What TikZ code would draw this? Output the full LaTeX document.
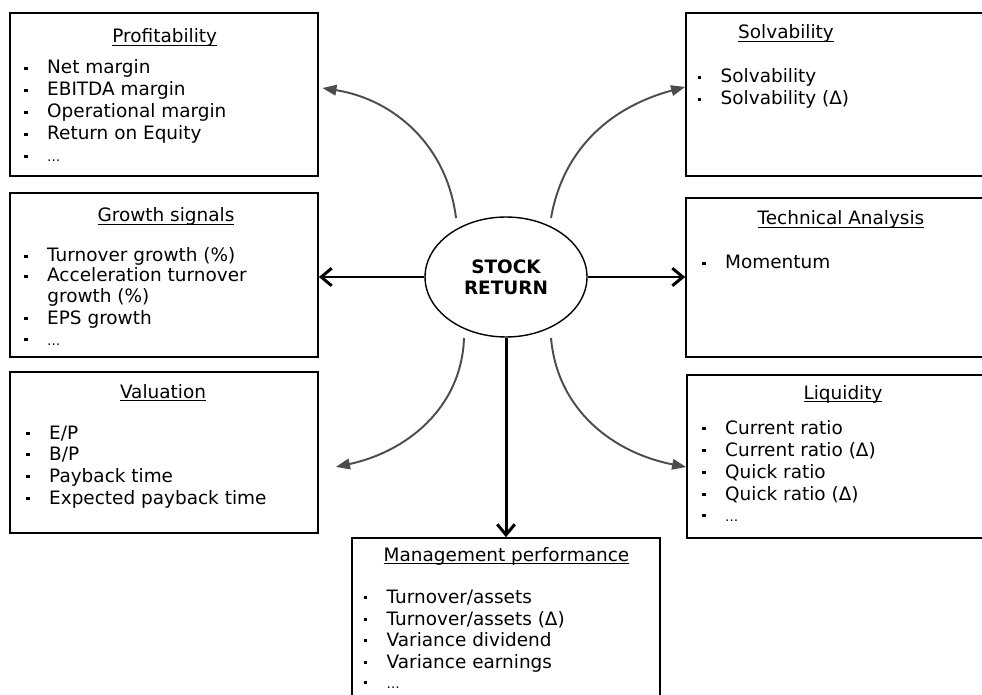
\documentclass[tikz,border=0pt]{standalone}
\usepackage{fontspec}
\setmainfont{DejaVu Sans}
\usetikzlibrary{shapes.geometric,arrows.meta}

\newcommand{\bul}{\makebox[13pt][l]{\rule[2.2pt]{1.9pt}{1.9pt}}}
\newcommand{\ttl}[1]{\underline{\smash{#1}}}
\newcommand{\etc}{{\fontsize{7.5}{9}\selectfont …}}

\tikzset{
  catbox/.style={draw, line width=1pt, inner sep=0pt},
  cattitle/.style={anchor=base, inner sep=0pt, font=\fontsize{10.5}{12.5}\selectfont},
  catitem/.style={anchor=base west, inner sep=0pt, font=\fontsize{10.5}{12.5}\selectfont},
  bigarrow/.style={-{Straight Barb[length=6pt,width=10pt]}, line width=1.7pt},
  curvearrow/.style={-{Triangle[length=8pt,width=6pt]}, line width=1.1pt, black!70}
}

\begin{document}
\begin{tikzpicture}[x=0.02cm, y=-0.02cm]
    \useasboundingbox (0,0) rectangle (982,695);
    \clip (0,0) rectangle (982,695);

    % boxes
    \node[catbox, minimum width=6.16cm, minimum height=3.26cm] (prof) at (164,94.5) {};
    \node[catbox, minimum width=6.16cm, minimum height=3.28cm] (grow) at (164,275) {};
    \node[catbox, minimum width=6.16cm, minimum height=3.22cm] (valu) at (164,452.5) {};
    \node[catbox, minimum width=6.28cm, minimum height=3.26cm] (solv) at (843,94.5) {};
    \node[catbox, minimum width=6.28cm, minimum height=3.18cm] (tech) at (843,277.5) {};
    \node[catbox, minimum width=6.26cm, minimum height=3.26cm] (liqu) at (843.5,456.5) {};
    \node[catbox, minimum width=6.16cm, minimum height=3.64cm] (mgmt) at (506,629) {};

    \node[ellipse, draw, line width=0.8pt, minimum width=3.24cm, minimum height=2.4cm, inner sep=0pt,
      align=center, font=\bfseries\fontsize{10.5}{12}\selectfont] (stock) at (506,277) {STOCK\\RETURN};

    % straight arrows
    \draw[bigarrow] (stock.west) -- (stock.west -| grow.east);
    \draw[bigarrow] (stock.east) -- (stock.east -| tech.west);
    \draw[bigarrow] (stock.south) -- (stock.south |- mgmt.north);

    % curved arrows
    \coordinate (tl) at (456,218);
    \coordinate (tr) at (551,218);
    \coordinate (bl) at (464,338);
    \coordinate (br) at (551,338);
    \draw[curvearrow] (tl) to[out=97, in=-9] ([xshift=2pt,yshift=3.7pt]prof.east);
    \draw[curvearrow] (tr) to[out=80, in=195] ([yshift=4.3pt]solv.west);
    \draw[curvearrow] (bl) to[out=-92, in=12] ([xshift=9.7pt,yshift=-8.2pt]valu.east);
    \draw[curvearrow] (br) to[out=-85, in=169] ([yshift=-6pt]liqu.west);

    % Profitability
    \node[cattitle] (prof-t) at (164.7,43) {\ttl{Profitability}};
    \node[catitem] (prof-1) at (24,74) {\bul Net margin};
    \node[catitem] (prof-2) at (24,96) {\bul EBITDA margin};
    \node[catitem] (prof-3) at (24,118) {\bul Operational margin};
    \node[catitem] (prof-4) at (24,140) {\bul Return on Equity};
    \node[catitem] (prof-5) at (24,162) {\bul \etc};

    % Growth signals
    \node[cattitle] (grow-t) at (166,222) {\ttl{Growth signals}};
    \node[catitem] (grow-1) at (24,262) {\bul Turnover growth (\%)};
    \node[catitem] (grow-2) at (24,282) {\bul Acceleration turnover};
    \node[catitem] (grow-3) at (47,303) {growth (\%)};
    \node[catitem] (grow-4) at (24,324) {\bul EPS growth};
    \node[catitem] (grow-5) at (24,345) {\bul \etc};

    % Valuation
    \node[cattitle] (valu-t) at (163,398) {\ttl{Valuation}};
    \node[catitem] (valu-1) at (26,439) {\bul E/P};
    \node[catitem] (valu-2) at (26,460) {\bul B/P};
    \node[catitem] (valu-3) at (26,482) {\bul Payback time};
    \node[catitem] (valu-4) at (26,504) {\bul Expected payback time};

    % Solvability
    \node[cattitle] (solv-t) at (786,39) {\ttl{Solvability}};
    \node[catitem] (solv-1) at (697.5,83) {\bul Solvability};
    \node[catitem] (solv-2) at (697.5,105) {\bul Solvability (Δ)};

    % Technical Analysis
    \node[cattitle] (tech-t) at (841,225) {\ttl{Technical Analysis}};
    \node[catitem] (tech-1) at (702,269) {\bul Momentum};

    % Liquidity
    \node[cattitle] (liqu-t) at (843,399) {\ttl{Liquidity}};
    \node[catitem] (liqu-1) at (702,434) {\bul Current ratio};
    \node[catitem] (liqu-2) at (702,456) {\bul Current ratio (Δ)};
    \node[catitem] (liqu-3) at (702,478) {\bul Quick ratio};
    \node[catitem] (liqu-4) at (702,500) {\bul Quick ratio (Δ)};
    \node[catitem] (liqu-5) at (702,521) {\bul \etc};

    % Management performance
    \node[cattitle] (mgmt-t) at (506.5,561) {\ttl{Management performance}};
    \node[catitem] (mgmt-1) at (363.5,603) {\bul Turnover/assets};
    \node[catitem] (mgmt-2) at (363.5,625) {\bul Turnover/assets (Δ)};
    \node[catitem] (mgmt-3) at (363.5,646) {\bul Variance dividend};
    \node[catitem] (mgmt-4) at (363.5,668) {\bul Variance earnings};
    \node[catitem] (mgmt-5) at (363.5,688) {\bul \etc};
  \end{tikzpicture}
\end{document}
